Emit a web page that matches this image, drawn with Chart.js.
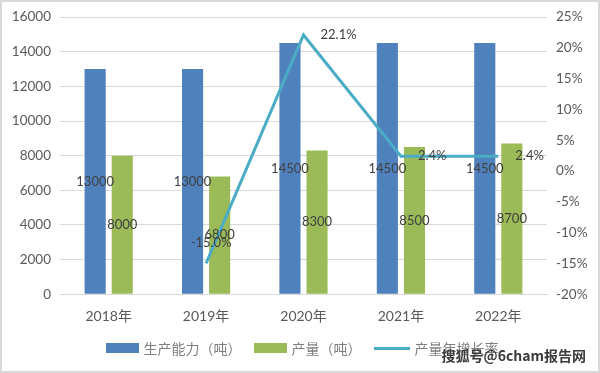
<!DOCTYPE html>
<html>
<head>
<meta charset="utf-8">
<script src="https://cdn.jsdelivr.net/npm/chart.js@4.4.1/dist/chart.umd.min.js"></script>
<style>
  html, body { margin: 0; padding: 0; background: #fff; }
  #wrap { position: relative; width: 600px; height: 373px; box-sizing: border-box; border: 2px solid #d8d8d8; overflow: hidden; }
  canvas { position: absolute; left: -2px; top: -2px; }
  .legend { position: absolute; left: 0; width: 600px; top: 336px; display: flex; justify-content: center; align-items: center;
            font-family: "Noto Sans CJK SC", sans-serif; font-size: 14px; color: #7f7f7f; }
  .legend .item { display: flex; align-items: center; margin: 0 6px; }
  .legend .box { width: 33px; height: 10px; margin-right: 5px; }
  .legend .ln { width: 36px; height: 3px; margin-right: 5px; }
  .mark { position: absolute; right: 12px; bottom: 6px; font-family: "Noto Sans CJK SC", sans-serif; font-weight: bold;
          font-size: 14px; color: #3a3a3a; }
</style>
</head>
<body>
<div id="wrap">
  <canvas id="chart" width="600" height="373"></canvas>
  <div class="legend" id="legend"></div>
  <div class="mark">搜狐号@6cham报告网</div>
</div>
<script>
const years = ['2018年', '2019年', '2020年', '2021年', '2022年'];
const capacity = [13000, 13000, 14500, 14500, 14500];   // 生产能力（吨）
const output = [8000, 6800, 8300, 8500, 8700];           // 产量（吨）
const growth = [null, -15.0, 22.1, 2.4, 2.4];            // 产量年增长率 %

const blue = '#4f81bd';
const green = '#9bbb59';
const teal = '#4bacc6';
const textColor = '#595959';
const font = 'Lato, "Noto Sans CJK SC", sans-serif';

// draws the value labels like the excel chart
const valueLabels = {
    id: 'valueLabels',
    afterDatasetsDraw(chart) {
        const ctx = chart.ctx;
        ctx.save();
        ctx.font = '13px ' + font;
        ctx.fillStyle = '#404040';
        chart.data.datasets.forEach((ds, i) => {
            const meta = chart.getDatasetMeta(i);
            meta.data.forEach((el, j) => {
                const v = ds.data[j];
                if (v === null) return;
                if (ds.type === 'line') {
                    const txt = v.toFixed(1) + '%';
                    if (v < 0) {
                        ctx.textAlign = 'center';
                        ctx.textBaseline = 'middle';
                        ctx.fillText(txt, el.x + 5, el.y - 21);
                    } else {
                        ctx.textAlign = 'left';
                        ctx.textBaseline = 'middle';
                        ctx.fillText(txt, el.x + 17, el.y);
                    }
                } else {
                    ctx.textAlign = 'center';
                    ctx.textBaseline = 'middle';
                    ctx.fillText(String(v), el.x, (el.y + el.base) / 2);
                }
            });
        });
        ctx.restore();
    }
};

const chart = new Chart(document.getElementById('chart'), {
    data: {
        labels: years,
        datasets: [
            { type: 'line', label: '产量年增长率', data: growth, yAxisID: 'y1', borderColor: teal, backgroundColor: teal,
              borderWidth: 3, pointRadius: 0, tension: 0, order: 0 },
            { type: 'bar', label: '生产能力（吨）', data: capacity, backgroundColor: blue, yAxisID: 'y',
              categoryPercentage: 0.556, barPercentage: 0.78, order: 1 },
            { type: 'bar', label: '产量（吨）', data: output, backgroundColor: green, yAxisID: 'y',
              categoryPercentage: 0.556, barPercentage: 0.78, order: 1 },
        ]
    },
    options: {
        responsive: false,
        animation: false,
        layout: { padding: { top: 13, left: 0, right: 0, bottom: 42 } },
        plugins: { legend: { display: false }, tooltip: { enabled: false } },
        scales: {
            x: {
                grid: { display: false },
                border: { display: true, color: '#d9d9d9' },
                ticks: { color: textColor, font: { size: 14, family: font }, padding: 6 }
            },
            y: {
                position: 'left', min: 0, max: 16000,
                ticks: { stepSize: 2000, color: textColor, font: { size: 13.5, family: font }, padding: 9,
                         callback: (v) => String(v) },
                grid: { color: '#d9d9d9', drawTicks: false },
                border: { display: false },
                afterFit(scale) { scale.width = 60; }
            },
            y1: {
                position: 'right', min: -20, max: 25,
                ticks: { stepSize: 5, color: textColor, font: { size: 13.5, family: font }, padding: 9,
                         callback: (v) => v + '%' },
                grid: { display: false, drawTicks: false, tickLength: 0 },
                border: { display: false },
                afterFit(scale) { scale.width = 53; }
            }
        }
    },
    plugins: [valueLabels]
});

// legend in the same order as the reference
const legend = document.getElementById('legend');
[chart.data.datasets[1], chart.data.datasets[2], chart.data.datasets[0]].forEach((ds) => {
    const item = document.createElement('div');
    item.className = 'item';
    const sw = document.createElement('span');
    sw.className = ds.type === 'line' ? 'ln' : 'box';
    sw.style.background = ds.type === 'line' ? ds.borderColor : ds.backgroundColor;
    item.appendChild(sw);
    item.appendChild(document.createTextNode(ds.label));
    legend.appendChild(item);
});
</script>
</body>
</html>
